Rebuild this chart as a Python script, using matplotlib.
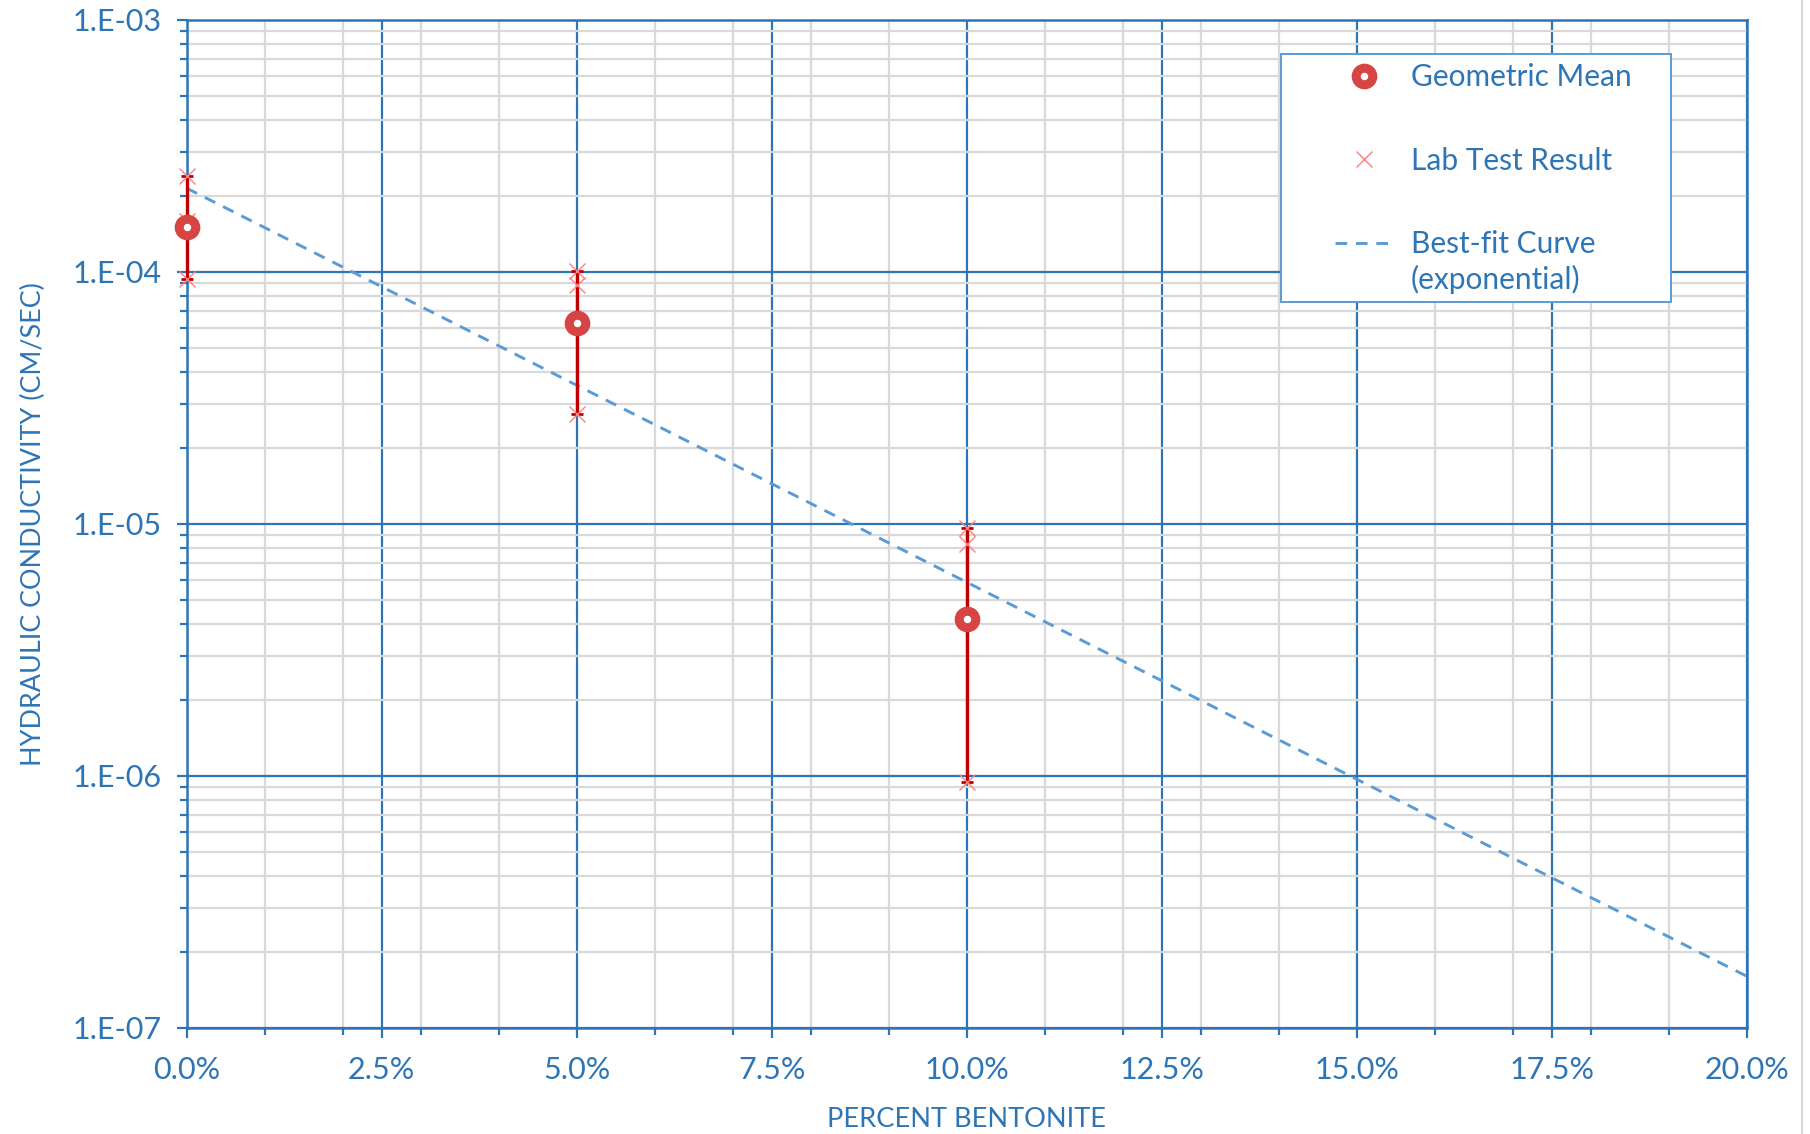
import numpy as np
import matplotlib
matplotlib.use("Agg")
import matplotlib.pyplot as plt
from matplotlib.ticker import FixedLocator, FuncFormatter, LogLocator, NullFormatter
from matplotlib.legend_handler import HandlerLine2D
from matplotlib.lines import Line2D
from matplotlib.patches import Rectangle

# percent bentonite (fraction) and lab hydraulic conductivity results (cm/sec)
lab_x = [0.0, 0.0, 0.0, 0.05, 0.05, 0.05, 0.10, 0.10, 0.10]
lab_k = [2.4e-4, 1.6e-4, 9.4e-5, 1.01e-4, 8.9e-5, 2.74e-5, 9.6e-6, 8.3e-6, 9.5e-7]

# geometric means per mix
mean_x = [0.0, 0.05, 0.10]
mean_k = [1.51e-4, 6.25e-5, 4.2e-6]

# exponential best-fit  k = A * exp(B * x)
fit_a = 2.15e-4
fit_b = -36.0

BLUE = "#2E75B6"
TEXT = "#2E75B6"
GRID = "#D9D9D9"
RED = "#C00000"

plt.rcParams["font.family"] = ["Lato", "DejaVu Sans"]

fig = plt.figure(figsize=(18.10, 11.34), dpi=100)
ax = fig.add_axes([0.1031, 0.0935, 0.8619, 0.8889])

# error bars span the min/max lab results
lab_x_arr = np.array(lab_x)
lab_k_arr = np.array(lab_k)
lo = [mean_k[i] - lab_k_arr[lab_x_arr == x].min() for i, x in enumerate(mean_x)]
hi = [lab_k_arr[lab_x_arr == x].max() - mean_k[i] for i, x in enumerate(mean_x)]

ax.errorbar(mean_x, mean_k, yerr=[lo, hi], fmt="none", ecolor=RED,
            elinewidth=2.4, capsize=4.5, capthick=2.0, zorder=4, clip_on=False)

xs = np.linspace(0, 0.20, 200)
fit_line, = ax.plot(xs, fit_a * np.exp(fit_b * xs), color="#5B9BD5", lw=2.1,
                    linestyle=(0, (4.0, 3.0)), zorder=3, label="Best-fit Curve\n(exponential)")

lab_pts, = ax.plot(lab_x, lab_k, linestyle="none", marker="x", color="#FF8080",
                   markersize=12, markeredgewidth=1.0, zorder=5, clip_on=False,
                   label="Lab Test Result")

mean_pts, = ax.plot(mean_x, mean_k, linestyle="none", marker="o", markersize=12,
                    markerfacecolor="white", markeredgecolor="#D64444",
                    markeredgewidth=6.5, zorder=6, clip_on=False, label="Geometric Mean")

ax.set_yscale("log")
ax.set_xlim(0, 0.20)
ax.set_ylim(1e-7, 1e-3)

ax.xaxis.set_major_locator(FixedLocator(np.arange(0, 0.2001, 0.025)))
ax.xaxis.set_minor_locator(FixedLocator(np.arange(0, 0.2001, 0.01)))
ax.xaxis.set_major_formatter(FuncFormatter(lambda v, _: f"{v * 100:.1f}%"))
ax.yaxis.set_major_locator(LogLocator(base=10, numticks=10))
ax.yaxis.set_minor_locator(LogLocator(base=10, subs=np.arange(2, 10), numticks=20))
ax.yaxis.set_minor_formatter(NullFormatter())
ax.yaxis.set_major_formatter(FuncFormatter(lambda v, _: f"{v:.0E}".replace("E", ".E")))

ax.grid(which="minor", color=GRID, lw=1.6, zorder=0)
ax.grid(which="major", color=BLUE, lw=1.6, zorder=1)
ax.set_axisbelow(True)

for s in ax.spines.values():
    s.set_color(BLUE)
    s.set_linewidth(1.8)

ax.tick_params(which="major", direction="out", length=7, width=1.6, color=BLUE,
               labelcolor=TEXT, labelsize=22)
ax.tick_params(axis="x", which="major", pad=13.5)
ax.tick_params(axis="y", which="major", pad=11)
ax.tick_params(which="minor", direction="out", length=5, width=1.6, color=BLUE)

ax.set_xlabel("PERCENT BENTONITE", color=TEXT, fontsize=19.6, labelpad=16)
ax.set_ylabel("HYDRAULIC CONDUCTIVITY (CM/SEC)", color=TEXT, fontsize=19.4, labelpad=19)


class UpperLineHandler(HandlerLine2D):
    # keep the dashed sample level with the first line of a two-line label
    def create_artists(self, legend, orig_handle, xdescent, ydescent, width, height,
                       fontsize, trans):
        artists = super().create_artists(legend, orig_handle, xdescent, ydescent,
                                         width, height, fontsize, trans)
        for a in artists:
            a.set_ydata(np.asarray(a.get_ydata()) + 0.68 * fontsize)
        return artists


# legend frame drawn separately so the entries can sit inset from its left edge
ax.add_patch(Rectangle((0.7015, 0.720), 0.25, 0.2463, transform=ax.transAxes,
                       facecolor="white", edgecolor="#5B9BD5", lw=1.4, zorder=9))

leg = ax.legend(handles=[mean_pts, lab_pts, fit_line],
                handler_map={fit_line: UpperLineHandler()},
                loc="upper left", bbox_to_anchor=(0.736, 0.957),
                fontsize=21.5, labelcolor=TEXT, frameon=False,
                borderpad=0, labelspacing=1.85, handlelength=1.94, handletextpad=0.6,
                borderaxespad=0, numpoints=1)
leg.set_zorder(10)
for t in leg.get_texts():
    t.set_multialignment("left")
    t.set_linespacing(1.3)

fig.add_artist(Line2D([0.9956, 0.9956], [0, 1], color=GRID, lw=1.5))

fig.savefig("out.png", dpi=100)
